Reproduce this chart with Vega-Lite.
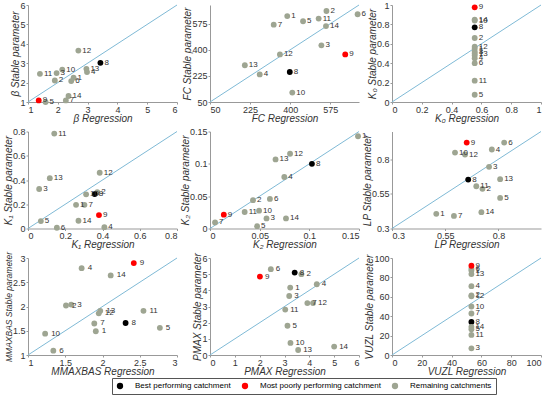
{
"$schema":"https://vega.github.io/schema/vega-lite/v6.json",
"padding":{"left":3,"top":1,"right":5,"bottom":2},
"datasets":{
"pts":[
{"p":"beta","id":1,"x":2.53,"y":2.25,"t":"r"},{"p":"beta","id":2,"x":1.9,"y":2.11,"t":"r"},{"p":"beta","id":3,"x":1.96,"y":2.49,"t":"r"},{"p":"beta","id":4,"x":2.98,"y":2.54,"t":"r"},{"p":"beta","id":5,"x":1.59,"y":1.0,"t":"r"},{"p":"beta","id":6,"x":2.45,"y":2.08,"t":"r"},{"p":"beta","id":7,"x":2.27,"y":1.08,"t":"r"},{"p":"beta","id":8,"x":3.43,"y":3.02,"t":"b"},{"p":"beta","id":9,"x":1.36,"y":1.08,"t":"w"},{"p":"beta","id":10,"x":2.15,"y":2.67,"t":"r"},{"p":"beta","id":11,"x":1.4,"y":2.45,"t":"r"},{"p":"beta","id":12,"x":2.69,"y":3.65,"t":"r"},{"p":"beta","id":13,"x":2.96,"y":2.71,"t":"r"},{"p":"beta","id":14,"x":2.36,"y":1.31,"t":"r"},
{"p":"fc","id":1,"x":387,"y":626,"t":"r"},{"p":"fc","id":2,"x":558,"y":660,"t":"r"},{"p":"fc","id":3,"x":536,"y":430,"t":"r"},{"p":"fc","id":4,"x":267,"y":235,"t":"r"},{"p":"fc","id":5,"x":456,"y":591,"t":"r"},{"p":"fc","id":6,"x":694,"y":638,"t":"r"},{"p":"fc","id":7,"x":328,"y":568,"t":"r"},{"p":"fc","id":8,"x":398,"y":251,"t":"b"},{"p":"fc","id":9,"x":640,"y":369,"t":"w"},{"p":"fc","id":10,"x":409,"y":113,"t":"r"},{"p":"fc","id":11,"x":524,"y":609,"t":"r"},{"p":"fc","id":12,"x":355,"y":369,"t":"r"},{"p":"fc","id":13,"x":202,"y":296,"t":"r"},{"p":"fc","id":14,"x":556,"y":559,"t":"r"},
{"p":"k0","id":1,"x":0.555,"y":0.55,"t":"r"},{"p":"k0","id":2,"x":0.555,"y":0.66,"t":"r"},{"p":"k0","id":3,"x":0.555,"y":0.52,"t":"r"},{"p":"k0","id":4,"x":0.555,"y":0.45,"t":"r"},{"p":"k0","id":5,"x":0.555,"y":0.075,"t":"r"},{"p":"k0","id":6,"x":0.555,"y":0.4,"t":"r"},{"p":"k0","id":7,"x":0.555,"y":0.48,"t":"r"},{"p":"k0","id":8,"x":0.555,"y":0.77,"t":"b"},{"p":"k0","id":9,"x":0.555,"y":0.976,"t":"w"},{"p":"k0","id":10,"x":0.555,"y":0.84,"t":"r"},{"p":"k0","id":11,"x":0.555,"y":0.22,"t":"r"},{"p":"k0","id":12,"x":0.555,"y":0.57,"t":"r"},{"p":"k0","id":13,"x":0.555,"y":0.5,"t":"r"},{"p":"k0","id":14,"x":0.555,"y":0.85,"t":"r"},
{"p":"k1","id":1,"x":0.258,"y":0.195,"t":"r"},{"p":"k1","id":2,"x":0.372,"y":0.3,"t":"r"},{"p":"k1","id":3,"x":0.06,"y":0.326,"t":"r"},{"p":"k1","id":4,"x":0.41,"y":0.011,"t":"r"},{"p":"k1","id":5,"x":0.069,"y":0.061,"t":"r"},{"p":"k1","id":6,"x":0.155,"y":0.006,"t":"r"},{"p":"k1","id":7,"x":0.303,"y":0.195,"t":"r"},{"p":"k1","id":8,"x":0.358,"y":0.284,"t":"b"},{"p":"k1","id":9,"x":0.381,"y":0.111,"t":"w"},{"p":"k1","id":10,"x":0.312,"y":0.282,"t":"r"},{"p":"k1","id":11,"x":0.141,"y":0.783,"t":"r"},{"p":"k1","id":12,"x":0.385,"y":0.46,"t":"r"},{"p":"k1","id":13,"x":0.117,"y":0.415,"t":"r"},{"p":"k1","id":14,"x":0.271,"y":0.064,"t":"r"},
{"p":"k2","id":1,"x":0.149,"y":0.1427,"t":"r"},{"p":"k2","id":2,"x":0.0433,"y":0.0438,"t":"r"},{"p":"k2","id":3,"x":0.0569,"y":0.0156,"t":"r"},{"p":"k2","id":4,"x":0.0748,"y":0.0797,"t":"r"},{"p":"k2","id":5,"x":0.0474,"y":0.0036,"t":"r"},{"p":"k2","id":6,"x":0.0603,"y":0.0458,"t":"r"},{"p":"k2","id":7,"x":0.0051,"y":0.0094,"t":"r"},{"p":"k2","id":8,"x":0.1026,"y":0.1,"t":"b"},{"p":"k2","id":9,"x":0.0139,"y":0.0214,"t":"w"},{"p":"k2","id":10,"x":0.0494,"y":0.0276,"t":"r"},{"p":"k2","id":11,"x":0.0349,"y":0.0255,"t":"r"},{"p":"k2","id":12,"x":0.0806,"y":0.1156,"t":"r"},{"p":"k2","id":13,"x":0.066,"y":0.1068,"t":"r"},{"p":"k2","id":14,"x":0.0765,"y":0.0156,"t":"r"},
{"p":"lp","id":1,"x":0.508,"y":0.406,"t":"r"},{"p":"lp","id":2,"x":0.725,"y":0.586,"t":"r"},{"p":"lp","id":3,"x":0.756,"y":0.745,"t":"r"},{"p":"lp","id":4,"x":0.769,"y":0.87,"t":"r"},{"p":"lp","id":5,"x":0.808,"y":0.521,"t":"r"},{"p":"lp","id":6,"x":0.827,"y":0.92,"t":"r"},{"p":"lp","id":7,"x":0.591,"y":0.391,"t":"r"},{"p":"lp","id":8,"x":0.658,"y":0.653,"t":"b"},{"p":"lp","id":9,"x":0.651,"y":0.92,"t":"w"},{"p":"lp","id":10,"x":0.596,"y":0.848,"t":"r"},{"p":"lp","id":11,"x":0.696,"y":0.605,"t":"r"},{"p":"lp","id":12,"x":0.643,"y":0.834,"t":"r"},{"p":"lp","id":13,"x":0.808,"y":0.656,"t":"r"},{"p":"lp","id":14,"x":0.72,"y":0.418,"t":"r"},
{"p":"mm","id":1,"x":1.91,"y":1.49,"t":"r"},{"p":"mm","id":2,"x":1.51,"y":2.02,"t":"r"},{"p":"mm","id":3,"x":1.58,"y":2.04,"t":"r"},{"p":"mm","id":4,"x":1.72,"y":2.79,"t":"r"},{"p":"mm","id":5,"x":2.77,"y":1.56,"t":"r"},{"p":"mm","id":6,"x":1.34,"y":1.09,"t":"r"},{"p":"mm","id":7,"x":1.89,"y":1.65,"t":"r"},{"p":"mm","id":8,"x":2.31,"y":1.66,"t":"b"},{"p":"mm","id":9,"x":2.42,"y":2.895,"t":"w"},{"p":"mm","id":10,"x":1.23,"y":1.44,"t":"r"},{"p":"mm","id":11,"x":2.55,"y":1.91,"t":"r"},{"p":"mm","id":12,"x":1.95,"y":1.86,"t":"r"},{"p":"mm","id":13,"x":1.97,"y":1.91,"t":"r"},{"p":"mm","id":14,"x":2.11,"y":2.64,"t":"r"},
{"p":"pm","id":1,"x":3.23,"y":4.17,"t":"r"},{"p":"pm","id":2,"x":3.68,"y":5.0,"t":"r"},{"p":"pm","id":3,"x":3.19,"y":3.65,"t":"r"},{"p":"pm","id":4,"x":4.3,"y":4.375,"t":"r"},{"p":"pm","id":5,"x":3.12,"y":1.81,"t":"r"},{"p":"pm","id":6,"x":2.45,"y":5.31,"t":"r"},{"p":"pm","id":7,"x":3.92,"y":3.21,"t":"r"},{"p":"pm","id":8,"x":3.41,"y":5.1,"t":"b"},{"p":"pm","id":9,"x":2.01,"y":4.85,"t":"w"},{"p":"pm","id":10,"x":3.24,"y":0.75,"t":"r"},{"p":"pm","id":11,"x":3.03,"y":2.81,"t":"r"},{"p":"pm","id":12,"x":4.15,"y":3.21,"t":"r"},{"p":"pm","id":13,"x":3.55,"y":0.31,"t":"r"},{"p":"pm","id":14,"x":5.0,"y":0.52,"t":"r"},
{"p":"vu","id":1,"x":53.3,"y":87,"t":"r"},{"p":"vu","id":2,"x":53.3,"y":61.5,"t":"r"},{"p":"vu","id":3,"x":53.3,"y":6.9,"t":"r"},{"p":"vu","id":4,"x":53.3,"y":71,"t":"r"},{"p":"vu","id":5,"x":53.3,"y":26.6,"t":"r"},{"p":"vu","id":6,"x":53.3,"y":89,"t":"r"},{"p":"vu","id":7,"x":53.3,"y":42.8,"t":"r"},{"p":"vu","id":8,"x":53.3,"y":34.1,"t":"b"},{"p":"vu","id":9,"x":53.3,"y":92,"t":"w"},{"p":"vu","id":10,"x":53.3,"y":50,"t":"r"},{"p":"vu","id":11,"x":53.3,"y":20.7,"t":"r"},{"p":"vu","id":12,"x":53.3,"y":60.5,"t":"r"},{"p":"vu","id":13,"x":53.3,"y":83.4,"t":"r"},{"p":"vu","id":14,"x":53.3,"y":29,"t":"r"}
],
"diag":[
{"p":"beta","x":1,"y":1},{"p":"beta","x":6,"y":6},
{"p":"fc","x":50,"y":50},{"p":"fc","x":700,"y":700},
{"p":"k0","x":0,"y":0},{"p":"k0","x":1,"y":1},
{"p":"k1","x":0,"y":0},{"p":"k1","x":0.8,"y":0.8},
{"p":"k2","x":0,"y":0},{"p":"k2","x":0.15,"y":0.15},
{"p":"lp","x":0.3,"y":0.3},{"p":"lp","x":1.0,"y":1.0},
{"p":"mm","x":1,"y":1},{"p":"mm","x":3,"y":3},
{"p":"pm","x":0,"y":0},{"p":"pm","x":6,"y":6},
{"p":"vu","x":0,"y":0},{"p":"vu","x":100,"y":100}
]
},
"columns":3,
"bounds":"flush",
"spacing":{"row":29.5,"column":33},
"concat":[
{"width":149,"height":97,
"encoding":{"x":{"field":"x","type":"quantitative","scale":{"domain":[1,6],"nice":false,"zero":false},"axis":{"title":"β Regression","values":[1,2,3,4,5,6]}},"y":{"field":"y","type":"quantitative","scale":{"domain":[1,6],"nice":false,"zero":false},"axis":{"title":"β Stable parameter","values":[1,2,3,4,5,6]}}},
"layer":[
{"data":{"name":"diag"},"transform":[{"filter":"datum.p=='beta'"}],"mark":{"type":"line","color":"#7fbad6","strokeWidth":1},"encoding":{}},
{"data":{"name":"pts"},"transform":[{"filter":"datum.p=='beta'"}],"mark":{"type":"circle","size":34,"opacity":1},"encoding":{"color":{"field":"t","type":"nominal"}}},
{"data":{"name":"pts"},"transform":[{"filter":"datum.p=='beta'"}],"mark":{"type":"text","align":"left","dx":4,"fontSize":8,"color":"#333"},"encoding":{"text":{"field":"id"}}}
]},
{"width":149,"height":97,
"encoding":{"x":{"field":"x","type":"quantitative","scale":{"domain":[50,700],"nice":false,"zero":false},"axis":{"title":"FC Regression","values":[50,225,400,575]}},"y":{"field":"y","type":"quantitative","scale":{"domain":[50,700],"nice":false,"zero":false},"axis":{"title":"FC Stable parameter","values":[50,225,400,575]}}},
"layer":[
{"data":{"name":"diag"},"transform":[{"filter":"datum.p=='fc'"}],"mark":{"type":"line","color":"#7fbad6","strokeWidth":1},"encoding":{}},
{"data":{"name":"pts"},"transform":[{"filter":"datum.p=='fc'"}],"mark":{"type":"circle","size":34,"opacity":1},"encoding":{"color":{"field":"t","type":"nominal"}}},
{"data":{"name":"pts"},"transform":[{"filter":"datum.p=='fc'"}],"mark":{"type":"text","align":"left","dx":4,"fontSize":8,"color":"#333"},"encoding":{"text":{"field":"id"}}}
]},
{"width":149,"height":97,
"encoding":{"x":{"field":"x","type":"quantitative","scale":{"domain":[0,1],"nice":false,"zero":false},"axis":{"title":"K₀ Regression","values":[0,0.2,0.4,0.6,0.8,1]}},"y":{"field":"y","type":"quantitative","scale":{"domain":[0,1],"nice":false,"zero":false},"axis":{"title":"K₀ Stable parameter","values":[0,0.2,0.4,0.6,0.8,1]}}},
"layer":[
{"data":{"name":"diag"},"transform":[{"filter":"datum.p=='k0'"}],"mark":{"type":"line","color":"#7fbad6","strokeWidth":1},"encoding":{}},
{"data":{"name":"pts"},"transform":[{"filter":"datum.p=='k0'"}],"mark":{"type":"circle","size":34,"opacity":1},"encoding":{"color":{"field":"t","type":"nominal"}}},
{"data":{"name":"pts"},"transform":[{"filter":"datum.p=='k0'"}],"mark":{"type":"text","align":"left","dx":4,"fontSize":8,"color":"#333"},"encoding":{"text":{"field":"id"}}}
]},
{"width":149,"height":97,
"encoding":{"x":{"field":"x","type":"quantitative","scale":{"domain":[0,0.8],"nice":false,"zero":false},"axis":{"title":"K₁ Regression","values":[0,0.2,0.4,0.6,0.8]}},"y":{"field":"y","type":"quantitative","scale":{"domain":[0,0.8],"nice":false,"zero":false},"axis":{"title":"K₁ Stable parameter","values":[0,0.2,0.4,0.6,0.8]}}},
"layer":[
{"data":{"name":"diag"},"transform":[{"filter":"datum.p=='k1'"}],"mark":{"type":"line","color":"#7fbad6","strokeWidth":1},"encoding":{}},
{"data":{"name":"pts"},"transform":[{"filter":"datum.p=='k1'"}],"mark":{"type":"circle","size":34,"opacity":1},"encoding":{"color":{"field":"t","type":"nominal"}}},
{"data":{"name":"pts"},"transform":[{"filter":"datum.p=='k1'"}],"mark":{"type":"text","align":"left","dx":4,"fontSize":8,"color":"#333"},"encoding":{"text":{"field":"id"}}}
]},
{"width":149,"height":97,
"encoding":{"x":{"field":"x","type":"quantitative","scale":{"domain":[0,0.15],"nice":false,"zero":false},"axis":{"title":"K₂ Regression","values":[0,0.05,0.1,0.15]}},"y":{"field":"y","type":"quantitative","scale":{"domain":[0,0.15],"nice":false,"zero":false},"axis":{"title":"K₂ Stable parameter","values":[0,0.05,0.1,0.15]}}},
"layer":[
{"data":{"name":"diag"},"transform":[{"filter":"datum.p=='k2'"}],"mark":{"type":"line","color":"#7fbad6","strokeWidth":1},"encoding":{}},
{"data":{"name":"pts"},"transform":[{"filter":"datum.p=='k2'"}],"mark":{"type":"circle","size":34,"opacity":1},"encoding":{"color":{"field":"t","type":"nominal"}}},
{"data":{"name":"pts"},"transform":[{"filter":"datum.p=='k2'"}],"mark":{"type":"text","align":"left","dx":4,"fontSize":8,"color":"#333"},"encoding":{"text":{"field":"id"}}}
]},
{"width":149,"height":97,
"encoding":{"x":{"field":"x","type":"quantitative","scale":{"domain":[0.3,1.0],"nice":false,"zero":false},"axis":{"title":"LP Regression","values":[0.3,0.55,0.8]}},"y":{"field":"y","type":"quantitative","scale":{"domain":[0.3,1.0],"nice":false,"zero":false},"axis":{"title":"LP Stable parameter","values":[0.3,0.55,0.8]}}},
"layer":[
{"data":{"name":"diag"},"transform":[{"filter":"datum.p=='lp'"}],"mark":{"type":"line","color":"#7fbad6","strokeWidth":1},"encoding":{}},
{"data":{"name":"pts"},"transform":[{"filter":"datum.p=='lp'"}],"mark":{"type":"circle","size":34,"opacity":1},"encoding":{"color":{"field":"t","type":"nominal"}}},
{"data":{"name":"pts"},"transform":[{"filter":"datum.p=='lp'"}],"mark":{"type":"text","align":"left","dx":4,"fontSize":8,"color":"#333"},"encoding":{"text":{"field":"id"}}}
]},
{"width":149,"height":97,
"encoding":{"x":{"field":"x","type":"quantitative","scale":{"domain":[1,3],"nice":false,"zero":false},"axis":{"title":"MMAXBAS Regression","values":[1,1.5,2,2.5,3]}},"y":{"field":"y","type":"quantitative","scale":{"domain":[1,3],"nice":false,"zero":false},"axis":{"title":"MMAXBAS Stable parameter","titleFontSize":8.5,"values":[1,1.5,2,2.5,3]}}},
"layer":[
{"data":{"name":"diag"},"transform":[{"filter":"datum.p=='mm'"}],"mark":{"type":"line","color":"#7fbad6","strokeWidth":1},"encoding":{}},
{"data":{"name":"pts"},"transform":[{"filter":"datum.p=='mm'"}],"mark":{"type":"circle","size":34,"opacity":1},"encoding":{"color":{"field":"t","type":"nominal"}}},
{"data":{"name":"pts"},"transform":[{"filter":"datum.p=='mm'"}],"mark":{"type":"text","align":"left","dx":6,"fontSize":8,"color":"#333"},"encoding":{"text":{"field":"id"}}}
]},
{"width":149,"height":97,
"encoding":{"x":{"field":"x","type":"quantitative","scale":{"domain":[0,6],"nice":false,"zero":false},"axis":{"title":"PMAX Regression","values":[0,1,2,3,4,5,6]}},"y":{"field":"y","type":"quantitative","scale":{"domain":[0,6],"nice":false,"zero":false},"axis":{"title":"PMAX Stable parameter","values":[0,1,2,3,4,5,6]}}},
"layer":[
{"data":{"name":"diag"},"transform":[{"filter":"datum.p=='pm'"}],"mark":{"type":"line","color":"#7fbad6","strokeWidth":1},"encoding":{}},
{"data":{"name":"pts"},"transform":[{"filter":"datum.p=='pm'"}],"mark":{"type":"circle","size":34,"opacity":1},"encoding":{"color":{"field":"t","type":"nominal"}}},
{"data":{"name":"pts"},"transform":[{"filter":"datum.p=='pm'"}],"mark":{"type":"text","align":"left","dx":5,"fontSize":8,"color":"#333"},"encoding":{"text":{"field":"id"}}}
]},
{"width":149,"height":97,
"encoding":{"x":{"field":"x","type":"quantitative","scale":{"domain":[0,100],"nice":false,"zero":false},"axis":{"title":"VUZL Regression","values":[0,20,40,60,80,100]}},"y":{"field":"y","type":"quantitative","scale":{"domain":[0,100],"nice":false,"zero":false},"axis":{"title":"VUZL Stable parameter","values":[0,20,40,60,80,100]}}},
"layer":[
{"data":{"name":"diag"},"transform":[{"filter":"datum.p=='vu'"}],"mark":{"type":"line","color":"#7fbad6","strokeWidth":1},"encoding":{}},
{"data":{"name":"pts"},"transform":[{"filter":"datum.p=='vu'"}],"mark":{"type":"circle","size":34,"opacity":1},"encoding":{"color":{"field":"t","type":"nominal","scale":{"domain":["b","w","r"],"range":["#000000","#ff0000","#9ea592"]},"legend":{"title":null,"orient":"none","legendX":84,"legendY":373,"direction":"horizontal","labelExpr":"datum.label=='b'?'Best performing catchment':datum.label=='w'?'Most poorly performing catchment':'Remaining catchments'"}}}},
{"data":{"name":"pts"},"transform":[{"filter":"datum.p=='vu'"}],"mark":{"type":"text","align":"left","dx":4,"fontSize":8,"color":"#333"},"encoding":{"text":{"field":"id"}}}
]}
],
"config":{
"font":"Liberation Sans",
"view":{"stroke":null},
"axis":{"grid":false,"domainColor":"#999","tickColor":"#999","tickSize":2,"labelFontSize":9,"labelColor":"#333","labelPadding":1,"labelExpr":"toString(datum.value)","titleFontSize":10,"titleFontStyle":"italic","titleFontWeight":"normal","titleColor":"#333","titlePadding":-1},
"legend":{"strokeColor":"#555","padding":4,"labelFontSize":8,"symbolSize":40,"columnPadding":10,"labelOffset":11,"labelLimit":300}
}
}
